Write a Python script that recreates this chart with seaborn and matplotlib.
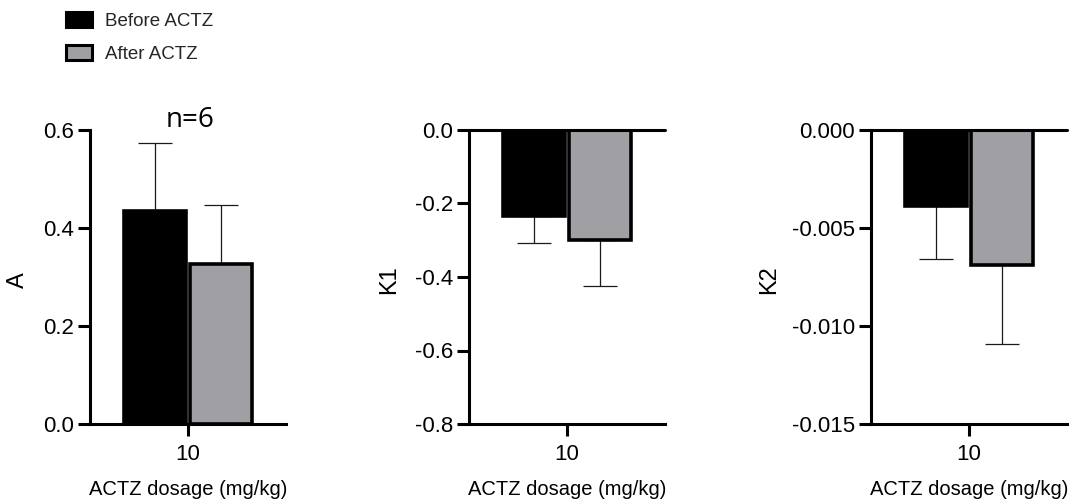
import matplotlib
matplotlib.use("Agg")
import matplotlib.pyplot as plt
import matplotlib.transforms as mtransforms
from matplotlib.patches import Patch
import pandas as pd
import seaborn as sns

# ---- data -------------------------------------------------------------
dose_labels = ["10"]
conditions = ["Before ACTZ", "After ACTZ"]
bar_colors = ["#000000", "#a0a0a4"]

a_mean = [0.435, 0.326]
a_sd = [0.138, 0.120]

k1_mean = [-0.233, -0.300]
k1_sd = [0.075, 0.125]

k2_mean = [-0.0039, -0.0069]
k2_sd = [0.0027, 0.0040]

a_ticks = [0.0, 0.2, 0.4, 0.6]
k1_ticks = [0.0, -0.2, -0.4, -0.6, -0.8]
k2_ticks = [0.0, -0.005, -0.010, -0.015]

x_label = "ACTZ dosage (mg/kg)"
n_label = "n=6"

# ---- style ------------------------------------------------------------
sns.set_theme(style="ticks")
plt.rcParams["font.family"] = ["Liberation Sans", "DejaVu Sans"]
plt.rcParams["axes.unicode_minus"] = False

W, H = 1069, 499
fig = plt.figure(figsize=(W / 100, H / 100), dpi=100)

AX_W, AX_TOP, AX_BOT = 196, 130, 424
LINE_W = 2.2
EDGE_W = 2.6

panels = [
    dict(name="A", mean=a_mean, sd=a_sd, ticks=a_ticks, fmt="{:.1f}",
         left=90, ylabel_x=18, zero_line=False),
    dict(name="K1", mean=k1_mean, sd=k1_sd, ticks=k1_ticks, fmt="{:.1f}",
         left=469, ylabel_x=389, zero_line=True),
    dict(name="K2", mean=k2_mean, sd=k2_sd, ticks=k2_ticks, fmt="{:.3f}",
         left=871, ylabel_x=769, zero_line=True),
]

axes = []
for p in panels:
    rect = [p["left"] / W, 1 - AX_BOT / H, AX_W / W, (AX_BOT - AX_TOP) / H]
    ax = fig.add_axes(rect)
    axes.append(ax)

    df = pd.DataFrame({
        "dose": [dose_labels[0]] * len(conditions),
        "condition": conditions,
        "value": p["mean"],
    })
    sns.barplot(data=df, x="dose", y="value", hue="condition",
                hue_order=conditions, palette=bar_colors, saturation=1,
                errorbar=None, width=0.8, gap=0.05, edgecolor="black",
                linewidth=EDGE_W, legend=False, ax=ax)

    # one-sided SD error bars pointing away from zero
    for patch, m, s in zip(ax.patches, p["mean"], p["sd"]):
        xc = patch.get_x() + patch.get_width() / 2
        yerr = [[0], [s]] if m > 0 else [[s], [0]]
        ax.errorbar([xc], [m], yerr=yerr, fmt="none", ecolor="#1a1a1a",
                    elinewidth=0.9, capsize=12, capthick=0.9, zorder=0.5)

    ax.set_xlim(-0.6, 0.6)
    lo, hi = min(p["ticks"]), max(p["ticks"])
    ax.set_ylim(lo, hi)
    ax.set_yticks(p["ticks"])
    ax.set_yticklabels([p["fmt"].format(t) for t in p["ticks"]])
    ax.set_xticks([0])
    ax.set_xticklabels(dose_labels)

    sns.despine(ax=ax)
    for side in ("left", "bottom"):
        ax.spines[side].set_linewidth(LINE_W)
        ax.spines[side].set_color("black")
    ax.tick_params(axis="both", length=8.5, width=LINE_W, color="black",
                   labelsize=16, labelcolor="black")
    ax.tick_params(axis="y", pad=3)
    ax.tick_params(axis="x", pad=6)

    if p["zero_line"]:
        ax.axhline(0, color="black", lw=LINE_W, zorder=3, clip_on=False)

    ax.set_xlabel(x_label, fontsize=14.5, color="black", va="top")
    ax.xaxis.set_label_coords(0.5, -0.19)
    ax.set_ylabel(p["name"], fontsize=17, color="black", va="center")
    ax.yaxis.set_label_coords((p["ylabel_x"] - p["left"]) / AX_W, 0.49)
    ax.set_facecolor("white")

# sample size above the first panel
trans = mtransforms.blended_transform_factory(axes[0].transData,
                                              axes[0].transAxes)
axes[0].text(0.01, 1.009, n_label, transform=trans, ha="center",
             va="baseline", fontsize=20, family=["Open Sans", "DejaVu Sans"],
             color="black")

# legend in the top-left corner
handles = [Patch(facecolor=c, edgecolor="black", linewidth=2.2)
           for c in bar_colors]
fig.legend(handles, conditions, loc="upper left",
           bbox_to_anchor=(66 / W, 1 - 12 / H), frameon=False, fontsize=13.5,
           handlelength=1.4, handleheight=0.85, handletextpad=0.7,
           labelspacing=0.78, borderpad=0, borderaxespad=0)

fig.savefig("out.png", dpi=100, facecolor="white")
